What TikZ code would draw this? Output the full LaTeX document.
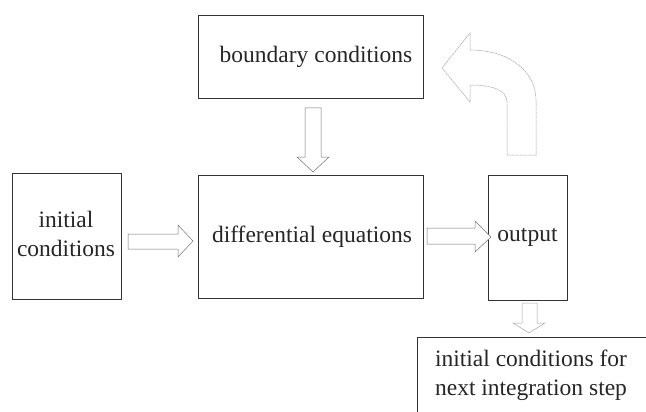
\documentclass[tikz,border=0pt]{standalone}
\usepackage{fontspec}
\setmainfont{Liberation Serif}
\newfontfamily\tnr{Liberation Serif}
\begin{document}
\begin{tikzpicture}[x=1pt,y=-1pt,
  box/.style={draw=black!80,line width=0.8pt,inner sep=0pt,outer sep=0pt},
  lbl/.style={font=\tnr\fontsize{23.5}{29}\selectfont,align=center,inner sep=0pt,text=black!85},
  blockarrow/.style={draw=black!55,line width=0.5pt,fill=white,line join=miter},
  lightarrow/.style={draw=black!35,line width=0.5pt,fill=white},
  curvearrow/.style={draw=black!35,line width=0.5pt,dash pattern=on 2pt off 0.6pt,fill=white}]
\useasboundingbox (0,0) rectangle (646,412);
\clip (0,0) rectangle (646,412);
% boxes
\draw[box] (198,15) rectangle (423,98);
\coordinate (bc) at (316,57);
\node[lbl] (bctext) at (bc) {boundary conditions};
\draw[box] (198,175) rectangle (423,298);
\node[lbl] (de) at (312,237) {differential equations};
\draw[box] (12,173) rectangle (121,299);
\node[lbl] (ic) at (66,234) {initial\\conditions};
\draw[box] (488,175) rectangle (567,300);
\node[lbl] (out) at (527.5,237) {output};
\draw[box] (417,337) rectangle (680,440);
\node[lbl] (next) at (531,375) {initial conditions for\\next integration step};
% block arrows
\draw[blockarrow] (128,234) -- (178,234) -- (178,225) -- (193,241) -- (178,257) -- (178,249) -- (128,249) -- cycle;
\draw[blockarrow] (427,228) -- (475,228) -- (475,221) -- (491,237) -- (475,252) -- (475,244) -- (427,244) -- cycle;
\draw[blockarrow] (305,108) -- (321,108) -- (321,157) -- (329,157) -- (313,172) -- (297,157) -- (305,157) -- cycle;
\draw[lightarrow] (522,303) -- (537,303) -- (537,323) -- (545,323) -- (529,333) -- (513,323) -- (522,323) -- cycle;
% curved feedback arrow
\draw[curvearrow] (507,155) -- (507,102) .. controls (507,90) and (492,85) .. (470,85)
  -- (470,102) -- (442,68) -- (470,33) -- (470,50)
  .. controls (510,50) and (536,72) .. (536,100) -- (536,155) -- cycle;
\end{tikzpicture}
\end{document}
